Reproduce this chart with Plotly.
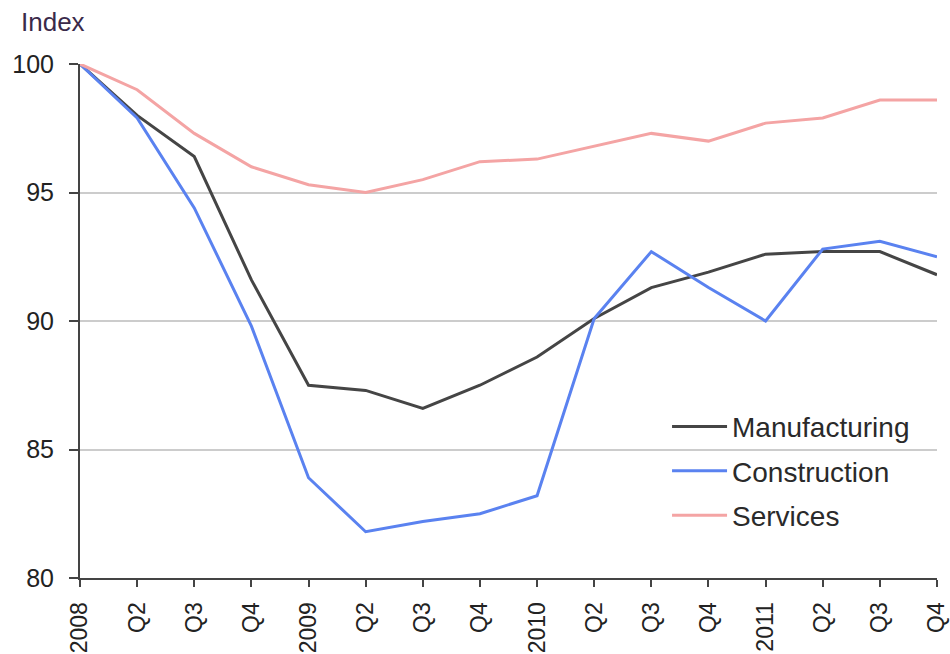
import plotly.graph_objects as go

quarters = ["2008", "Q2", "Q3", "Q4", "2009", "Q2", "Q3", "Q4",
            "2010", "Q2", "Q3", "Q4", "2011", "Q2", "Q3", "Q4"]
manufacturing = [100.0, 98.0, 96.4, 91.6, 87.5, 87.3, 86.6, 87.5,
                 88.6, 90.1, 91.3, 91.9, 92.6, 92.7, 92.7, 91.8]
construction = [100.0, 97.9, 94.4, 89.8, 83.9, 81.8, 82.2, 82.5,
                83.2, 90.1, 92.7, 91.3, 90.0, 92.8, 93.1, 92.5]
services = [100.0, 99.0, 97.3, 96.0, 95.3, 95.0, 95.5, 96.2,
            96.3, 96.8, 97.3, 97.0, 97.7, 97.9, 98.6, 98.6]
y_ticks = [80, 85, 90, 95, 100]

x = list(range(len(quarters)))
FONT = "Liberation Sans, Arial, sans-serif"

fig = go.Figure()
series = [("Manufacturing", manufacturing, "#454545"),
          ("Construction", construction, "#5A82F0"),
          ("Services", services, "#F4A4A4")]
for i, (name, vals, col) in enumerate(series):
    fig.add_trace(go.Scatter(x=x, y=vals, mode="lines", name=name,
                             legendgroup=f"g{i}",
                             line=dict(color=col, width=3)))

fig.update_layout(
    width=950, height=654,
    margin=dict(l=80, r=13, t=64, b=76),
    paper_bgcolor="white", plot_bgcolor="white",
    font=dict(family=FONT, size=22, color="#222222"),
    showlegend=True,
    legend=dict(x=0.685, y=0.343, xanchor="left", yanchor="top",
                bgcolor="rgba(255,255,255,0)", font=dict(size=28, color="#2a2a2a"),
                tracegroupgap=5, itemwidth=55),
    xaxis=dict(range=[0, 15], tickmode="array", tickvals=x, ticktext=quarters,
               tickangle=-90, showgrid=False, zeroline=False, automargin=False,
               showline=True, linecolor="#444444", linewidth=2,
               ticks="outside", ticklen=7, tickwidth=2, tickcolor="#444444",
               ticklabelstandoff=6,
               tickfont=dict(size=23)),
    yaxis=dict(range=[80, 100], tickmode="array", tickvals=y_ticks,
               showgrid=True, gridcolor="#cccccc", gridwidth=1.5,
               zeroline=False, showline=True, linecolor="#444444", linewidth=2,
               automargin=False,
               ticks="outside", ticklen=9, tickwidth=2, tickcolor="#444444",
               ticklabelstandoff=10,
               tickfont=dict(size=25)),
    annotations=[dict(text="Index", xref="paper", yref="paper",
                      x=-0.071, y=1.082, xanchor="left", yanchor="middle",
                      showarrow=False, font=dict(size=26, color="#3a2a4a"))],
)

fig.write_html("out.html", config={"displayModeBar": False},
               post_script="document.body.style.margin='0';document.body.style.overflow='hidden';")
